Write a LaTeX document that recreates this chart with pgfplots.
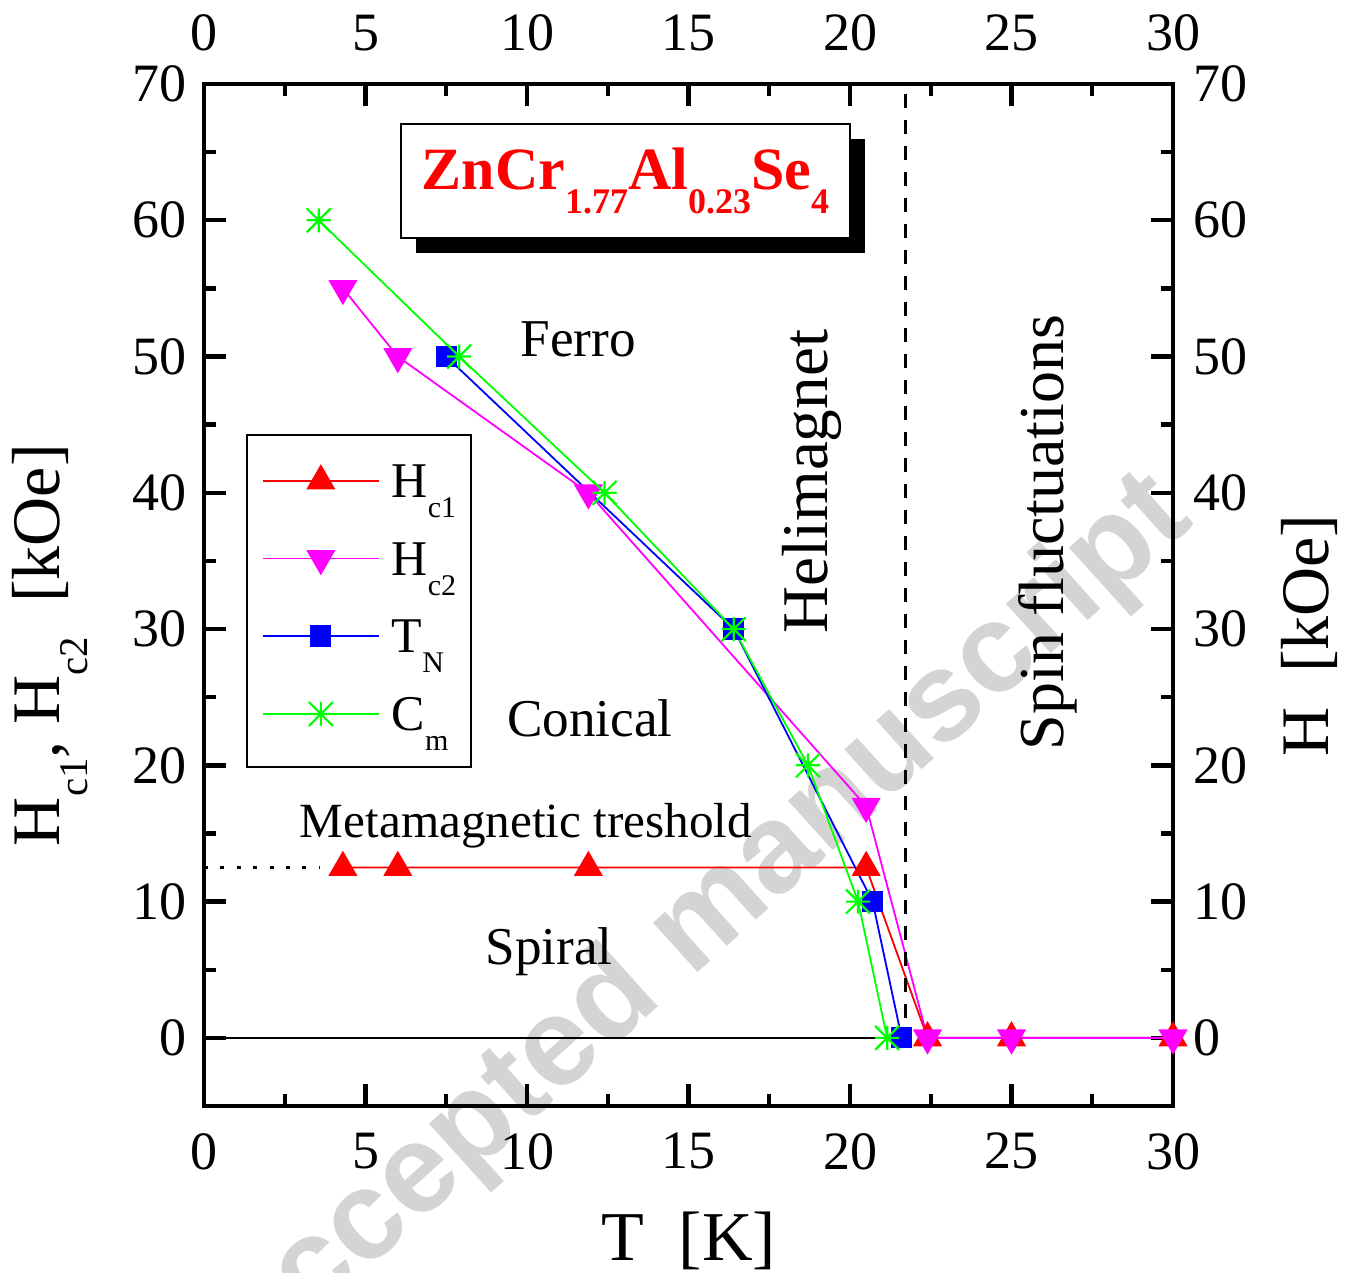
\documentclass[border=0pt]{standalone}
\usepackage{pgfplots}
\pgfplotsset{compat=1.18}
\usepackage{fontspec}
\setmainfont{Liberation Serif}
\newfontfamily\wmfont{Liberation Sans}
\usetikzlibrary{shadows}
\definecolor{cgreen}{RGB}{0,255,0}
\definecolor{cmag}{RGB}{255,0,255}
\definecolor{wmgray}{RGB}{212,212,212}
\newcommand{\sub}[1]{\raisebox{-0.4em}{\scalebox{0.6}{#1}}}
\pgfdeclareplotmark{ast8}{%
  \pgfpathmoveto{\pgfqpoint{-\pgfplotmarksize}{0pt}}\pgfpathlineto{\pgfqpoint{\pgfplotmarksize}{0pt}}%
  \pgfpathmoveto{\pgfqpoint{0pt}{-\pgfplotmarksize}}\pgfpathlineto{\pgfqpoint{0pt}{\pgfplotmarksize}}%
  \pgfpathmoveto{\pgfqpoint{-\pgfplotmarksize}{-\pgfplotmarksize}}\pgfpathlineto{\pgfqpoint{\pgfplotmarksize}{\pgfplotmarksize}}%
  \pgfpathmoveto{\pgfqpoint{-\pgfplotmarksize}{\pgfplotmarksize}}\pgfpathlineto{\pgfqpoint{\pgfplotmarksize}{-\pgfplotmarksize}}%
  \pgfusepathqstroke}
\pgfplotsset{
  base/.style={
    at={(0pt,0pt)}, anchor=south west,
    scale only axis, width=242.25pt, height=255.5pt,
    xmin=0, xmax=30, ymin=-5, ymax=70,
    xtick={0,5,...,30}, ytick={0,10,...,70},
    minor x tick num=1, minor y tick num=1,
    tick align=inside,
    major tick length=5.5pt, minor tick length=3pt,
    axis line style={line width=1.1pt},
    every tick/.style={black, line width=1.1pt},
    /pgf/number format/assume math mode=true,
    ticklabel style={font=\fontsize{13.5}{16}\selectfont},
  }
}
\begin{document}
\begin{tikzpicture}
\useasboundingbox (-51pt,-41.5pt) rectangle (285.5pt,276.5pt);
\node[rotate=42, text=wmgray, font=\wmfont\bfseries\fontsize{31.5}{36}\selectfont] at (123.5pt,44.5pt) {Accepted manuscript};
\begin{axis}[base,
  xticklabel pos=upper, yticklabel pos=right,
  xticklabel shift=4.75pt, yticklabel shift=1.5pt,
  tick style={draw=none},
]
\end{axis}
\begin{axis}[base,
  xticklabel shift=3.25pt, yticklabel shift=0.75pt,
  legend style={at={(rel axis cs:0.0433,0.6575)}, anchor=north west, draw=black, line width=0.5pt, fill=white,
    font=\fontsize{12.5}{15}\selectfont, inner xsep=3.75pt, inner ysep=7.5pt, row sep=9.7pt,
    nodes={inner sep=0pt}, cells={anchor=base west}, column sep=3pt},
  legend image code/.code={\draw[mark repeat=2,mark phase=2,#1] plot coordinates {(0pt,4.2pt)(14.5pt,4.2pt)(29pt,4.2pt)};},
]
\addplot[black, line width=0.6pt, forget plot] coordinates {(0,0) (21.4,0)};
\addplot[black, line width=0.9pt, dash pattern=on 1pt off 3.1pt, forget plot] coordinates {(0,12.5) (3.6,12.5)};
\addplot[red, line width=0.45pt, mark=triangle*, mark size=3.9pt, mark options={fill=red, draw=red, line width=0.3pt}]
  coordinates {(4.3,12.5) (6,12.5) (11.9,12.5) (20.5,12.5) (22.4,0) (25,0) (30,0)};
\addlegendentry{H\sub{c1}}
\addplot[cmag, line width=0.45pt, mark=triangle*, mark size=3.9pt, mark options={fill=cmag, draw=cmag, rotate=180, line width=0.3pt}]
  coordinates {(4.3,55) (6,50) (11.9,40) (20.5,17) (22.4,0) (25,0) (30,0)};
\addlegendentry{H\sub{c2}}
\addplot[blue, line width=0.45pt, mark=square*, mark size=2.5pt, mark options={fill=blue, draw=blue, line width=0.3pt}]
  coordinates {(7.5,50) (16.4,30) (20.7,10) (21.6,0)};
\addlegendentry{T\sub{N}}
\addplot[cgreen, line width=0.45pt, mark=ast8, mark size=3pt, mark options={draw=cgreen, line width=0.55pt}]
  coordinates {(3.55,60) (7.9,50) (12.4,40) (16.4,30) (18.7,20) (20.25,10) (21.15,0)};
\addlegendentry{C\sub{m}}
\addplot[black, line width=0.8pt, dash pattern=on 3.5pt off 3pt, forget plot] coordinates {(21.73,69.3) (21.73,-0.2)};
\node[draw=black, line width=0.6pt, fill=white, minimum width=112.25pt, minimum height=28.5pt, inner sep=0pt,
  drop shadow={shadow xshift=3.75pt, shadow yshift=-3.75pt, fill=black, opacity=1},
  text=red, font=\bfseries\fontsize{15}{18}\selectfont] at (axis cs:13.05,62.9) {ZnCr\sub{1.77}Al\sub{0.23}Se\sub{4}};
\node[anchor=base, font=\fontsize{13.3}{16}\selectfont] at (axis cs:11.58,50) {Ferro};
\node[anchor=base, font=\fontsize{13.3}{16}\selectfont] at (axis cs:11.95,22.15) {Conical};
\node[anchor=base, font=\fontsize{12.3}{15}\selectfont] at (axis cs:9.97,14.67) {Metamagnetic treshold};
\node[anchor=base, font=\fontsize{13.3}{16}\selectfont] at (axis cs:10.68,5.36) {Spiral};
\node[anchor=base, rotate=90, font=\fontsize{16.3}{19}\selectfont] at (axis cs:19.3,40.8) {Helimagnet};
\node[anchor=base, rotate=90, font=\fontsize{16}{19}\selectfont] at (axis cs:26.6,37.1) {Spin fluctuations};
\end{axis}
\node[anchor=base, font=\fontsize{17.5}{21}\selectfont] at (121.125pt,-38.5pt) {T\ \ [K]};
\node[anchor=base, rotate=90, font=\fontsize{17}{21}\selectfont] at (-36pt,115.2pt) {H\sub{c1}, H\sub{c2}\ \ [kOe]};
\node[anchor=base, rotate=90, font=\fontsize{17}{21}\selectfont] at (281pt,117.7pt) {H\ \ [kOe]};
\end{tikzpicture}
\end{document}
